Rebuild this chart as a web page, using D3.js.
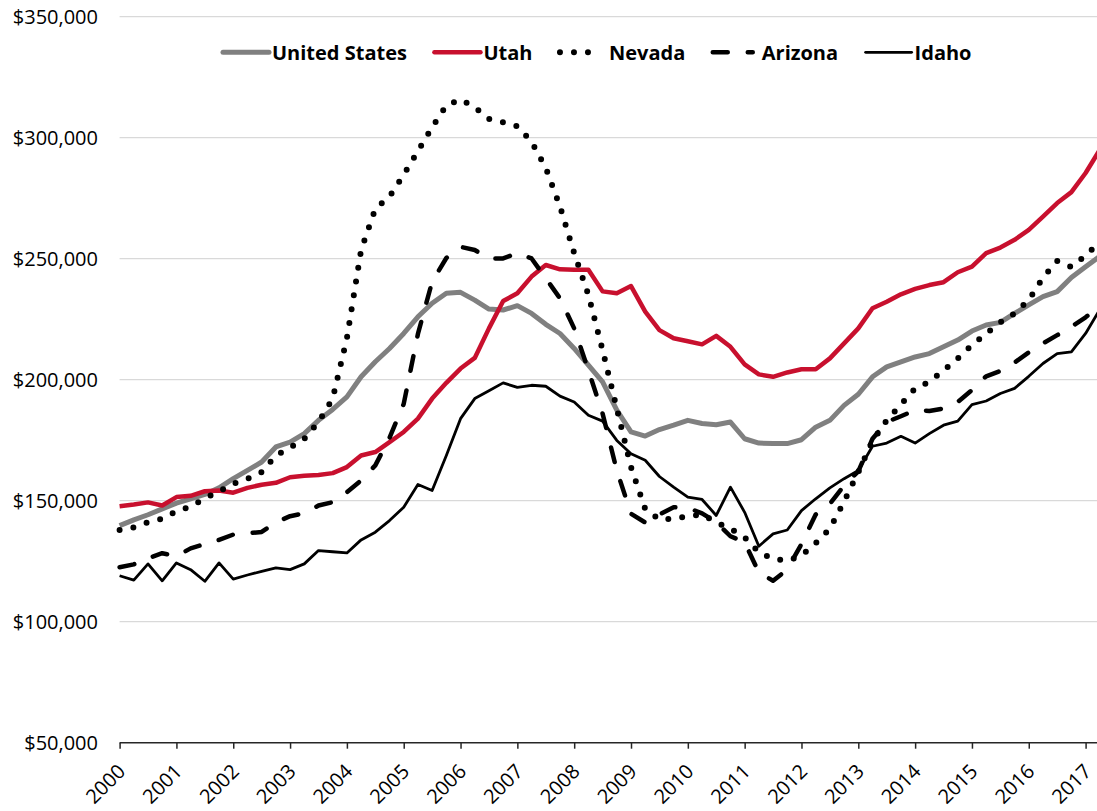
<!DOCTYPE html>
<html>
<head>
<meta charset="utf-8">
<script src="https://cdn.jsdelivr.net/npm/d3@7"></script>
<style>
  body { margin: 0; background: #fff; }
  svg text { font-family: "Open Sans", "Noto Sans", sans-serif; fill: #000; }
</style>
</head>
<body>
<script>
// quarterly median values, thousands of dollars, 2000 Q1 .. 2017 Q2
const usValues = [139.7, 142.1, 144.2, 146.6, 149.0, 150.8, 152.6, 155.3, 159.1, 162.5, 166.0, 172.2, 174.2, 177.7, 183.2, 187.7,
    192.9, 201.2, 207.4, 212.9, 219.1, 226.0, 231.6, 235.7, 236.1, 232.9, 229.2, 228.8, 230.6, 227.4, 222.9, 219.1,
    212.9, 206.0, 199.1, 187.4, 178.4, 176.7, 179.4, 181.2, 183.2, 181.9, 181.4, 182.5, 175.6, 173.8, 173.6, 173.6,
    175.2, 180.4, 183.2, 189.4, 194.0, 201.2, 205.3, 207.4, 209.4, 210.8, 213.6, 216.4, 220.1, 222.6, 223.7, 227.4,
    230.9, 234.3, 236.4, 242.2, 246.7, 251.0];
const utahValues = [147.7, 148.4, 149.3, 148.0, 151.5, 152.0, 153.9, 154.2, 153.3, 155.3, 156.6, 157.4, 159.7, 160.3, 160.6, 161.4,
    163.9, 168.7, 170.1, 174.2, 178.4, 183.9, 192.2, 198.7, 204.6, 209.0, 221.2, 232.5, 235.7, 242.6, 247.4, 245.6,
    245.4, 245.4, 236.5, 235.7, 238.7, 228.1, 220.5, 217.1, 215.9, 214.6, 218.1, 213.6, 206.3, 202.2, 201.2, 203.0,
    204.3, 204.3, 208.8, 215.0, 221.2, 229.5, 232.2, 235.3, 237.5, 239.1, 240.3, 244.4, 246.7, 252.3, 254.6, 257.8,
    261.9, 267.4, 273.0, 277.5, 285.4, 295.0];
const nevadaValues = [137.9, 139.0, 141.1, 142.5, 145.7, 147.6, 151.0, 153.8, 157.0, 159.1, 161.8, 168.7, 171.9, 175.6, 182.5, 192.2,
    217.1, 253.6, 270.6, 275.7, 284.7, 294.4, 304.3, 313.4, 315.8, 312.6, 307.8, 306.4, 304.7, 298.3, 287.5, 271.6,
    252.3, 235.0, 212.2, 188.1, 163.9, 146.6, 142.2, 142.5, 143.6, 144.3, 141.1, 138.4, 134.9, 128.7, 125.9, 125.2,
    127.3, 132.4, 138.4, 149.7, 161.8, 174.6, 183.2, 189.8, 196.4, 199.1, 203.8, 208.8, 214.3, 219.0, 223.7, 227.4,
    232.9, 242.2, 249.1, 246.6, 251.3, 257.0];
const arizonaValues = [122.5, 123.7, 126.2, 128.3, 127.1, 130.3, 132.1, 133.8, 136.0, 136.5, 137.1, 141.1, 143.6, 144.8, 148.0, 149.4,
    153.5, 158.4, 164.6, 176.0, 190.0, 218.9, 240.5, 250.3, 254.9, 253.6, 250.1, 250.1, 252.3, 250.1, 241.9, 233.6,
    221.2, 203.9, 186.0, 162.5, 144.6, 141.0, 144.3, 147.3, 147.1, 144.8, 141.1, 135.3, 132.8, 120.3, 116.9, 121.6,
    132.1, 144.3, 148.7, 156.3, 162.1, 175.6, 182.5, 184.9, 187.4, 187.1, 188.1, 190.8, 195.7, 201.4, 203.6, 207.1,
    211.3, 215.0, 218.4, 221.9, 225.8, 230.4];
const idahoValues = [119.0, 117.2, 123.9, 116.9, 124.3, 121.5, 116.7, 124.3, 117.6, 119.3, 120.8, 122.2, 121.5, 123.9, 129.4, 128.9,
    128.4, 133.8, 137.0, 141.8, 147.3, 156.7, 154.2, 168.7, 183.9, 192.2, 195.4, 198.7, 196.8, 197.7, 197.3, 193.2,
    190.8, 185.3, 182.9, 174.9, 169.4, 166.7, 160.0, 155.6, 151.5, 150.5, 143.9, 155.6, 145.2, 131.2, 136.3, 137.9,
    145.9, 150.8, 155.3, 159.1, 162.5, 172.5, 173.8, 176.6, 173.8, 177.7, 181.2, 182.9, 189.7, 191.2, 194.3, 196.4,
    201.4, 206.7, 210.8, 211.5, 219.1, 229.0];

const years = d3.range(2000, 2018);
const yTicks = [50, 100, 150, 200, 250, 300, 350];
const seriesNames = ["United States", "Utah", "Nevada", "Arizona", "Idaho"];

const width = 1097;
const height = 811;

const quarters = usValues.map((d, i) => 2000 + i / 4);

const xScale = d3.scaleLinear()
                 .domain([2000, 2017.25])
                 .range([119.6, 1099.8]);
const yScale = d3.scaleLinear()
                 .domain([50, 350])
                 .range([742.7, 16.7]);

const svg = d3.select("body")
              .append("svg")
              .attr("width", width)
              .attr("height", height);

// gridlines
svg.append("g")
   .selectAll("line")
   .data(yTicks.slice(1))
   .enter()
   .append("line")
   .attr("x1", xScale(2000))
   .attr("x2", width)
   .attr("y1", d => yScale(d))
   .attr("y2", d => yScale(d))
   .style("stroke", "#d9d9d9")
   .style("stroke-width", 1.3);

// y labels
const moneyFmt = d3.format("$,");
svg.append("g")
   .selectAll("text")
   .data(yTicks)
   .enter()
   .append("text")
   .attr("x", 98)
   .attr("y", d => yScale(d))
   .attr("dy", "0.36em")
   .attr("text-anchor", "end")
   .style("font-size", "20px")
   .text(d => moneyFmt(d * 1000));

// x axis
const xAxis = d3.axisBottom(xScale)
                .tickValues(years)
                .tickSize(6)
                .tickFormat("");
const xg = svg.append("g")
              .attr("transform", "translate(0," + yScale(50) + ")")
              .call(xAxis);
xg.select(".domain").remove();
xg.selectAll(".tick line").style("stroke", "#262626").style("stroke-width", 1.5);
xg.append("line")
  .attr("x1", xScale(2000))
  .attr("x2", width)
  .style("stroke", "#262626")
  .style("stroke-width", 1.5);

svg.append("g")
   .selectAll("text")
   .data(years)
   .enter()
   .append("text")
   .attr("transform", d => "translate(" + (xScale(d) + 7) + "," + (yScale(50) + 30) + ") rotate(-45)")
   .attr("text-anchor", "end")
   .style("font-size", "20px")
   .text(d => d);

// series
const styles = [
    {color: "#808080", width: 5, dash: null, cap: "butt"},
    {color: "#c8102e", width: 4.5, dash: null, cap: "butt"},
    {color: "#000", width: 6, dash: "0,14", cap: "round"},
    {color: "#000", width: 4.5, dash: "15,20", cap: "round"},
    {color: "#000", width: 2.8, dash: null, cap: "butt"}
];
const allValues = [usValues, utahValues, nevadaValues, arizonaValues, idahoValues];

const line = d3.line()
               .x((d, i) => xScale(quarters[i]))
               .y(d => yScale(d));

allValues.forEach((vals, k) => {
    svg.append("path")
       .datum(vals)
       .attr("d", line)
       .style("fill", "none")
       .style("stroke", styles[k].color)
       .style("stroke-width", styles[k].width)
       .style("stroke-linecap", styles[k].cap)
       .style("stroke-linejoin", "round")
       .style("stroke-dasharray", styles[k].dash);
});

// legend
const legend = svg.append("g");
let lx = 223;
const ly = 52.3;
seriesNames.forEach((name, k) => {
    const len = styles[k].dash ? 40 : 46;
    legend.append("line")
          .attr("x1", lx)
          .attr("x2", lx + len)
          .attr("y1", ly)
          .attr("y2", ly)
          .style("stroke", styles[k].color)
          .style("stroke-width", styles[k].width)
          .style("stroke-linecap", styles[k].dash ? styles[k].cap : "round")
          .style("stroke-dasharray", styles[k].dash);
    const t = legend.append("text")
                    .attr("x", lx + 49)
                    .attr("y", ly)
                    .attr("dy", "0.36em")
                    .style("font-size", "20px")
                    .style("font-weight", "bold")
                    .text(name);
    lx = lx + 49 + t.node().getComputedTextLength() + 27.5;
});
</script>
</body>
</html>
